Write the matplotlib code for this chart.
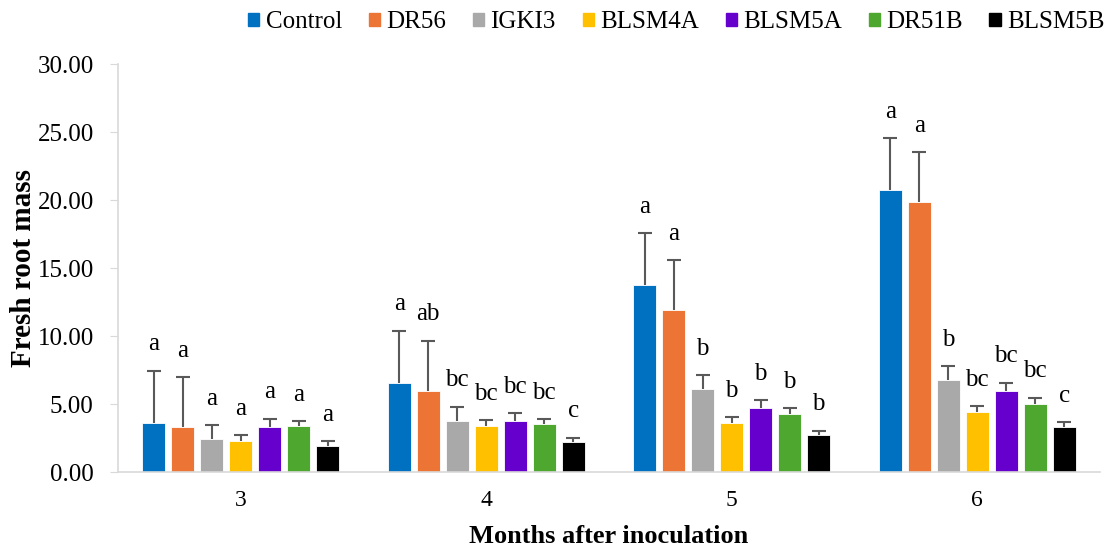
import numpy as np
import matplotlib.pyplot as plt
from matplotlib.patches import Patch

plt.rcParams['font.family'] = ['Liberation Serif', 'DejaVu Serif']

months = ['3', '4', '5', '6']
treatments = ['Control', 'DR56', 'IGKI3', 'BLSM4A', 'BLSM5A', 'DR51B', 'BLSM5B']
colors = ['#0070C0', '#EC7434', '#A9A9A9', '#FFC000', '#6600CC', '#4EA72E', '#000000']

# mean fresh root mass per treatment, one row per month
means = [
    [3.62, 3.29, 2.45, 2.28, 3.33, 3.36, 1.91],
    [6.57, 5.98, 3.77, 3.38, 3.73, 3.50, 2.18],
    [13.72, 11.90, 6.10, 3.58, 4.68, 4.29, 2.69],
    [20.70, 19.83, 6.74, 4.39, 5.96, 5.02, 3.31],
]
# upper error bar (mean + sd)
tops = [
    [7.45, 6.96, 3.46, 2.72, 3.92, 3.75, 2.26],
    [10.40, 9.65, 4.80, 3.82, 4.31, 3.90, 2.52],
    [17.57, 15.59, 7.13, 4.02, 5.27, 4.68, 3.04],
    [24.54, 23.53, 7.79, 4.85, 6.57, 5.46, 3.65],
]
letters = [
    ['a', 'a', 'a', 'a', 'a', 'a', 'a'],
    ['a', 'ab', 'bc', 'bc', 'bc', 'bc', 'c'],
    ['a', 'a', 'b', 'b', 'b', 'b', 'b'],
    ['a', 'a', 'b', 'bc', 'bc', 'bc', 'c'],
]

means = np.array(means)
errs = np.array(tops) - means

fig = plt.figure(figsize=(11.07, 5.5), dpi=100)
ax = fig.add_axes([0.1066, 0.1418, 0.887, 0.7418])

x = np.arange(len(months))
step = 0.118
width = 0.094
for i, name in enumerate(treatments):
    pos = x + (i - 3) * step
    ax.bar(pos, means[:, i], width, color=colors[i], edgecolor='white',
           linewidth=0.6, label=name, zorder=2)
    _, caps, _ = ax.errorbar(pos, means[:, i], yerr=[np.zeros(len(months)), errs[:, i]],
                             fmt='none', ecolor='#595959', elinewidth=1.5, capsize=5,
                             capthick=1.5, zorder=3)
    caps[0].set_visible(False)  # one-sided bars: no cap at the bar top
    for j in range(len(months)):
        ax.annotate(letters[j][i], xy=(pos[j], means[j, i] + errs[j, i]),
                    xytext=(0, 11), textcoords='offset points',
                    ha='center', va='bottom', fontsize=18)

ax.set_xlim(-0.5, 3.5)
ax.set_ylim(0, 30)
ax.set_yticks(np.arange(0, 31, 5))
ax.set_yticklabels([f'{v:.2f}' for v in np.arange(0, 31, 5)], fontsize=18)
ax.set_xticks(x)
ax.set_xticklabels(months, fontsize=17)
ax.tick_params(axis='x', length=0, pad=13)
ax.tick_params(axis='y', length=6, color='#D9D9D9', pad=11.5)

for s in ['top', 'right']:
    ax.spines[s].set_visible(False)
for s in ['left', 'bottom']:
    ax.spines[s].set_color('#D9D9D9')
    ax.spines[s].set_linewidth(1.2)

ax.set_xlabel('Months after inoculation', fontsize=19, fontweight='bold', labelpad=10)
ax.set_ylabel('Fresh root mass', fontsize=21, fontweight='bold', labelpad=0)

handles = [Patch(color=c) for c in colors]
fig.legend(handles, treatments, loc='upper right', bbox_to_anchor=(1.018, 1.02),
           ncol=7, frameon=False, fontsize=18, handlelength=0.45, handleheight=0.45,
           handletextpad=0.25, columnspacing=1.07)

fig.savefig('out.png', dpi=100)
